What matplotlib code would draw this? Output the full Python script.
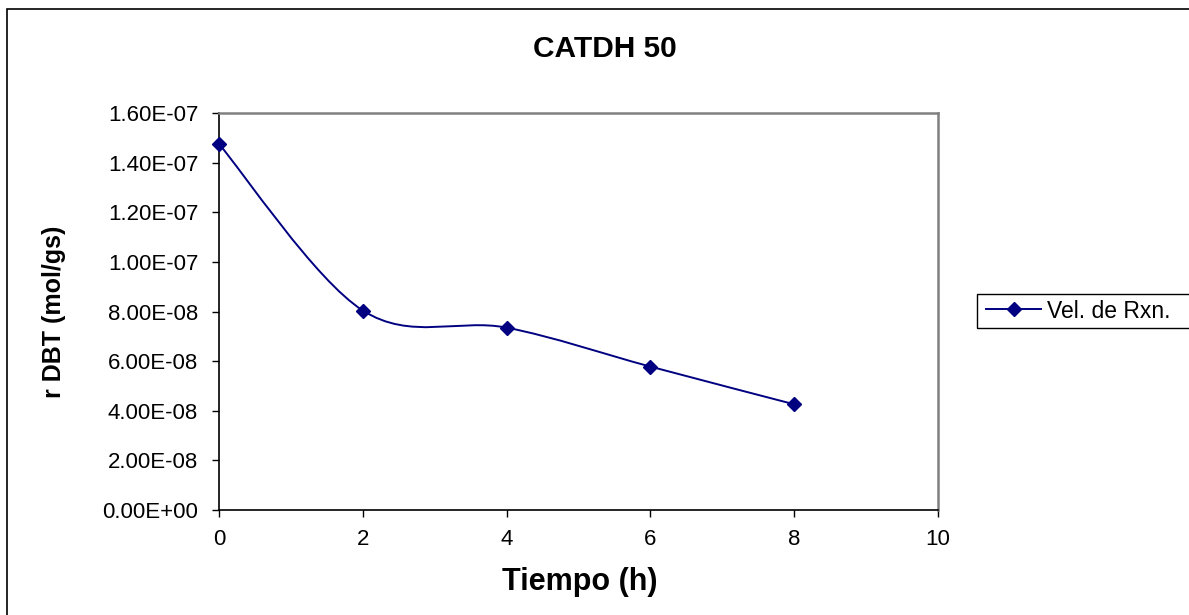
import matplotlib
matplotlib.use("Agg")
import matplotlib.pyplot as plt
from matplotlib.path import Path
from matplotlib.patches import PathPatch, Rectangle
from matplotlib.lines import Line2D

plt.rcParams['font.family'] = ['Liberation Sans', 'DejaVu Sans']

# Data
tiempo_h = [0, 2, 4, 6, 8]
vel_rxn = [1.475e-07, 8.04e-08, 7.35e-08, 5.78e-08, 4.26e-08]
series_name = "Vel. de Rxn."
title = "CATDH 50"
x_label = "Tiempo (h)"
y_label = "r DBT (mol/gs)"
x_ticks = [0, 2, 4, 6, 8, 10]
y_ticks = [0.0, 2e-08, 4e-08, 6e-08, 8e-08, 1e-07, 1.2e-07, 1.4e-07, 1.6e-07]
y_tick_labels = ["0.00E+00", "2.00E-08", "4.00E-08", "6.00E-08", "8.00E-08",
                 "1.00E-07", "1.20E-07", "1.40E-07", "1.60E-07"]

W, H = 1189, 615
fig = plt.figure(figsize=(W / 100, H / 100), dpi=100)
fig.patch.set_facecolor("white")

ax = fig.add_axes([219 / W, (H - 510) / H, 719 / W, 397 / H])

navy = "#000080"


def smooth_path(xs, ys):
    """Cubic Bezier spline through the points (Catmull-Rom style, 1/6 tension)."""
    n = len(xs)
    pts = list(zip(xs, ys))
    verts = [pts[0]]
    codes = [Path.MOVETO]
    for i in range(n - 1):
        p0 = pts[i - 1] if i > 0 else pts[i]
        p1 = pts[i]
        p2 = pts[i + 1]
        p3 = pts[i + 2] if i + 2 < n else pts[i + 1]
        c1 = (p1[0] + (p2[0] - p0[0]) / 6, p1[1] + (p2[1] - p0[1]) / 6)
        c2 = (p2[0] - (p3[0] - p1[0]) / 6, p2[1] - (p3[1] - p1[1]) / 6)
        verts += [c1, c2, p2]
        codes += [Path.CURVE4] * 3
    return Path(verts, codes)


curve = PathPatch(smooth_path(tiempo_h, vel_rxn), facecolor="none",
                  edgecolor=navy, linewidth=1.4, zorder=3)
ax.add_patch(curve)
ax.plot(tiempo_h, vel_rxn, linestyle="none", marker="D", markersize=7,
        color=navy, zorder=4, clip_on=False)

ax.set_xlim(0, 10)
ax.set_ylim(0, 1.6e-07)
ax.set_xticks(x_ticks)
ax.set_xticklabels([str(t) for t in x_ticks])
ax.set_yticks(y_ticks)
ax.set_yticklabels(y_tick_labels)

ax.tick_params(axis="both", direction="out", length=5, width=1, color="black",
               labelsize=16, labelcolor="black")
ax.tick_params(axis="y", pad=10)
ax.tick_params(axis="x", pad=9)

for side in ("left", "bottom"):
    ax.spines[side].set_color("black")
    ax.spines[side].set_linewidth(1.2)
for side in ("top", "right"):
    ax.spines[side].set_color("#808080")
    ax.spines[side].set_linewidth(1.8)

ax.set_xlabel(x_label, fontsize=22, fontweight="bold", va="center")
ax.xaxis.set_label_coords((580 - 219) / 719, (510 - 582) / 397)
ax.set_ylabel(y_label, fontsize=18, fontweight="bold", va="center")
ax.yaxis.set_label_coords((54 - 219) / 719, (510 - 312) / 397)

fig.text(605 / W, 1 - 49 / H, title, fontsize=21.5, fontweight="bold",
         ha="center", va="center")

# Legend: entries without their own frame, boxed by a rectangle that runs
# past the right edge of the chart area
handle = Line2D([], [], color=navy, linewidth=1.4, marker="D", markersize=7)
leg = fig.legend([handle], [series_name], loc="center left",
                 bbox_to_anchor=(986 / W, 1 - 311 / H), fontsize=16.5,
                 frameon=False, handlelength=2.4,
                 handletextpad=0.25, borderpad=0.0, borderaxespad=0)
fig.add_artist(Rectangle((977 / W, 1 - 328 / H), 0.3, 34 / H,
                         transform=fig.transFigure, fill=False,
                         edgecolor="black", linewidth=1.0, clip_on=False))

# Chart-area border
fig.add_artist(Rectangle((7 / W, -0.1), 1.2, 1.1 - 9 / H,
                         transform=fig.transFigure, fill=False,
                         edgecolor="black", linewidth=1.2, clip_on=False))

fig.savefig("out.png", dpi=100)
